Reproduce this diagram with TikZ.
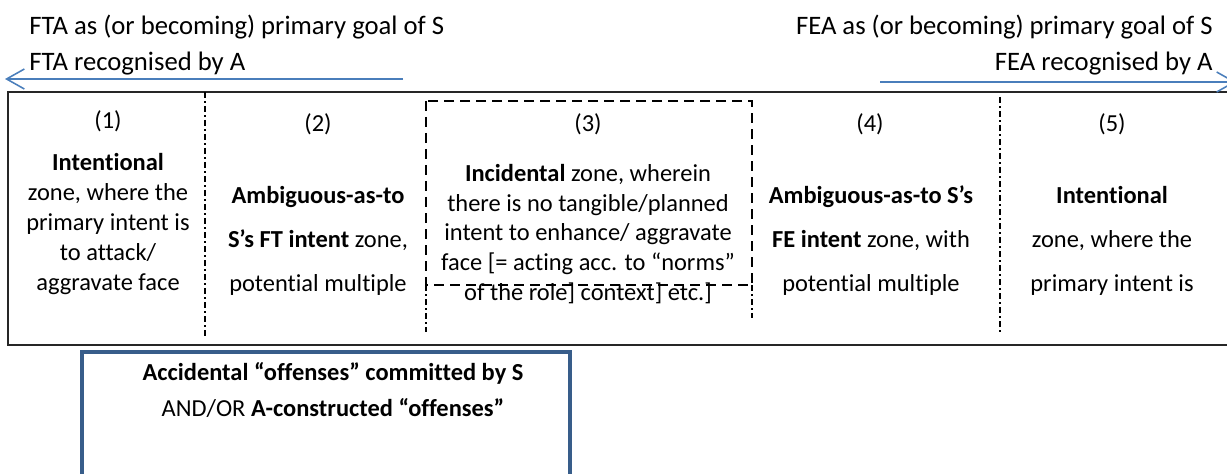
\documentclass[tikz,border=0pt]{standalone}
\usepackage{fontspec}
\setmainfont{Carlito}[Ligatures={TeX,NoCommon}]
\usetikzlibrary{arrows.meta}
\definecolor{arrowblue}{HTML}{4A7EBB}
\definecolor{boxblue}{HTML}{385D8A}
\tikzset{
  zonetext/.style={align=center, inner sep=0pt, font=\fontsize{11}{13.4}\selectfont},
  widetext/.style={align=center, inner sep=0pt, font=\fontsize{11}{19.8}\selectfont},
  goaltext/.style={inner sep=0pt, font=\fontsize{12}{15.8}\selectfont},
  divider/.style={line width=0.5pt, dash pattern=on 2.7pt off 1.5pt on 0.6pt off 1.5pt},
  goalarrow/.style={arrowblue, line width=0.7pt, -{Straight Barb[length=8pt,width=9pt]}}
}

\begin{document}
\begin{tikzpicture}[x=0.45pt,y=-0.45pt]
\useasboundingbox (0,0) rectangle (1227,474);

\coordinate (A) at (8,92);
\coordinate (B) at (1240,345);
\coordinate (C) at (426,101);
\coordinate (D) at (752,285);
\coordinate (E) at (82,352);
\coordinate (F) at (570,495);
\coordinate (G) at (403,79);
\coordinate (H) at (5,79);
\coordinate (I) at (880,82);
\coordinate (J) at (1236,82);
\coordinate (K) at (205,92);
\coordinate (L) at (205,337);
\coordinate (M) at (1000,97);
\coordinate (N) at (1000,334);
\coordinate (O) at (426,332);
\coordinate (P) at (752,318);

\draw [line width=1pt, black!85] (A) rectangle (B);
\draw [divider] (K)--(L);
\draw [divider] (M)--(N);
\draw [divider] (C|-D)--(O);
\draw [divider] (D)--(P);
\draw [goalarrow] (G)--(H);
\draw [goalarrow] (I)--(J);
\draw [boxblue, line width=2pt] (E) rectangle (F);

\node [goaltext, anchor=west, align=left] (fta) at (29,45) {FTA as (or becoming) primary goal of S\\FTA recognised by A};
\node [goaltext, anchor=east, align=right] (fea) at (1213,45) {FEA as (or becoming) primary goal of S\\FEA recognised by A};

\node [zonetext] (num1) at (108,121) {(1)};
\node [zonetext] (num2) at (318,124) {(2)};
\node [zonetext] (num3) at (588,124) {(3)};
\node [zonetext] (num4) at (870,124) {(4)};
\node [zonetext] (num5) at (1112,124) {(5)};

\node [zonetext] (zone1) at (108,224) {\textbf{Intentional}\\zone, where the\\primary intent is\\to attack/\\aggravate face};
\node [widetext] (zone2) at (318,241) {\textbf{Ambiguous-as-to}\\\textbf{S’s FT intent} zone,\\potential multiple};
\node [zonetext] (zone3) at (588,234) {\textbf{Incidental} zone, wherein\\there is no tangible/planned\\intent to enhance/ aggravate\\face [= acting acc. to “norms”\\of the role] context] etc.]};
\node [widetext] (zone4) at (871,241) {\textbf{Ambiguous-as-to S’s}\\\textbf{FE intent} zone, with\\potential multiple};
\node [widetext] (zone5) at (1112,241) {\textbf{Intentional}\\zone, where the\\primary intent is};

\draw [line width=0.6pt, dash pattern=on 4.5pt off 2.7pt] (C) rectangle (D);

\node [align=center, inner sep=0pt, font=\fontsize{11}{16.2}\selectfont] (offenses) at (333,390) {\textbf{Accidental “offenses” committed by S}\\AND/OR \textbf{A-constructed “offenses”}};
\end{tikzpicture}
\end{document}
